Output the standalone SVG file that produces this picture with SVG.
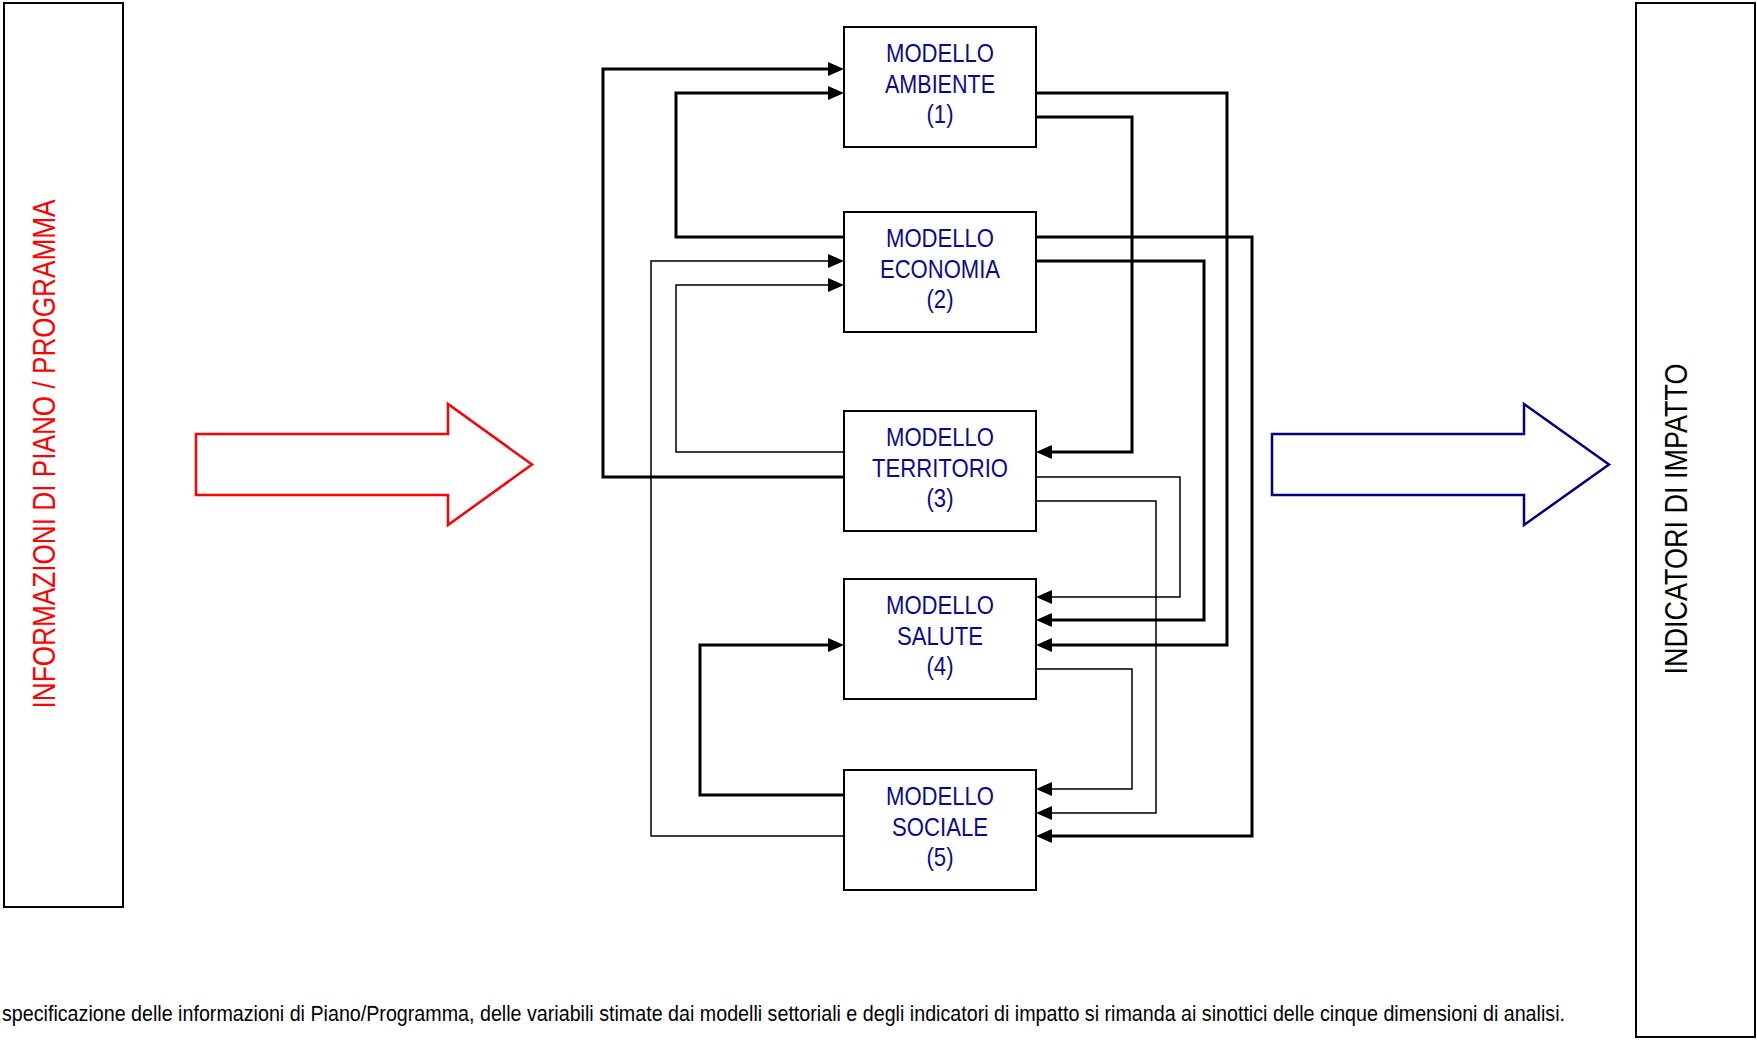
<svg xmlns="http://www.w3.org/2000/svg" width="1757" height="1041" viewBox="0 0 1757 1041">
<style>
.box{fill:#fff;stroke:#000;stroke-width:2}
.nt{font-family:'Liberation Sans Narrow','Arial Narrow','Liberation Sans',sans-serif;font-size:26px;fill:#0a0a8c;text-anchor:middle}
.thick{fill:none;stroke:#000;stroke-width:3;stroke-linejoin:miter}
.thin{fill:none;stroke:#000;stroke-width:1.5;stroke-linejoin:miter}
.vt{font-family:'Liberation Sans Narrow','Arial Narrow','Liberation Sans',sans-serif;text-anchor:middle}
</style>
<defs>
<marker id="ah" markerUnits="userSpaceOnUse" markerWidth="16" markerHeight="14" refX="8" refY="7" orient="auto">
<path d="M0,0 L16,7 L0,14 z" fill="#000"/>
</marker>
</defs>
<rect width="1757" height="1041" fill="#fff"/>

<g id="input-box">
<rect class="box" x="4" y="3" width="119" height="904"/>
<text class="vt" transform="translate(55,454) rotate(-90)" font-size="31.5" fill="#ff0000" textLength="509" lengthAdjust="spacingAndGlyphs">INFORMAZIONI DI PIANO / PROGRAMMA</text>
</g>

<g id="input-arrow">
<polygon points="196,434 448,434 448,404 532,464.5 448,525 448,495 196,495" fill="#fff" stroke="#ff0000" stroke-width="2.5" stroke-linejoin="miter"/>
</g>

<g id="output-arrow">
<polygon points="1272,434 1524,434 1524,404 1609,464.5 1524,525 1524,495 1272,495" fill="#fff" stroke="#000080" stroke-width="2.5" stroke-linejoin="miter"/>
</g>

<g id="output-box">
<rect class="box" x="1636" y="3" width="119" height="1034"/>
<text class="vt" transform="translate(1687,519) rotate(-90)" font-size="32" fill="#000" textLength="311" lengthAdjust="spacingAndGlyphs">INDICATORI DI IMPATTO</text>
</g>

<g id="connectors">
<path class="thick" d="M844,477 H603 V69 H836" marker-end="url(#ah)"/>
<path class="thick" d="M844,237 H676 V93 H836" marker-end="url(#ah)"/>
<path class="thin" d="M844,836 H651 V261 H836" marker-end="url(#ah)"/>
<path class="thin" d="M844,452 H676 V285 H836" marker-end="url(#ah)"/>
<path class="thick" d="M844,795 H700 V645 H836" marker-end="url(#ah)"/>
<path class="thick" d="M1036,93 H1227 V645 H1044" marker-end="url(#ah)"/>
<path class="thick" d="M1036,117 H1132 V452 H1044" marker-end="url(#ah)"/>
<path class="thick" d="M1036,237 H1252 V836 H1044" marker-end="url(#ah)"/>
<path class="thick" d="M1036,261 H1204 V620 H1044" marker-end="url(#ah)"/>
<path class="thin" d="M1036,477 H1180 V597 H1044" marker-end="url(#ah)"/>
<path class="thin" d="M1036,501 H1156 V813 H1044" marker-end="url(#ah)"/>
<path class="thin" d="M1036,669 H1132 V789 H1044" marker-end="url(#ah)"/>
</g>

<g id="node-ambiente">
<rect class="box" x="844" y="27" width="192" height="120"/>
<text class="nt" x="940" y="62" textLength="108" lengthAdjust="spacingAndGlyphs">MODELLO</text>
<text class="nt" x="940" y="92.5" textLength="110" lengthAdjust="spacingAndGlyphs">AMBIENTE</text>
<text class="nt" x="940" y="123" textLength="27" lengthAdjust="spacingAndGlyphs">(1)</text>
</g>

<g id="node-economia">
<rect class="box" x="844" y="212" width="192" height="120"/>
<text class="nt" x="940" y="247" textLength="108" lengthAdjust="spacingAndGlyphs">MODELLO</text>
<text class="nt" x="940" y="277.5" textLength="120" lengthAdjust="spacingAndGlyphs">ECONOMIA</text>
<text class="nt" x="940" y="308" textLength="27" lengthAdjust="spacingAndGlyphs">(2)</text>
</g>

<g id="node-territorio">
<rect class="box" x="844" y="411" width="192" height="120"/>
<text class="nt" x="940" y="446" textLength="108" lengthAdjust="spacingAndGlyphs">MODELLO</text>
<text class="nt" x="940" y="476.5" textLength="136" lengthAdjust="spacingAndGlyphs">TERRITORIO</text>
<text class="nt" x="940" y="507" textLength="27" lengthAdjust="spacingAndGlyphs">(3)</text>
</g>

<g id="node-salute">
<rect class="box" x="844" y="579" width="192" height="120"/>
<text class="nt" x="940" y="614" textLength="108" lengthAdjust="spacingAndGlyphs">MODELLO</text>
<text class="nt" x="940" y="644.5" textLength="86" lengthAdjust="spacingAndGlyphs">SALUTE</text>
<text class="nt" x="940" y="675" textLength="27" lengthAdjust="spacingAndGlyphs">(4)</text>
</g>

<g id="node-sociale">
<rect class="box" x="844" y="770" width="192" height="120"/>
<text class="nt" x="940" y="805" textLength="108" lengthAdjust="spacingAndGlyphs">MODELLO</text>
<text class="nt" x="940" y="835.5" textLength="96" lengthAdjust="spacingAndGlyphs">SOCIALE</text>
<text class="nt" x="940" y="866" textLength="27" lengthAdjust="spacingAndGlyphs">(5)</text>
</g>

<g id="footnote">
<text x="2" y="1021" font-family="'Liberation Sans Narrow','Arial Narrow','Liberation Sans',sans-serif" font-size="22" fill="#000" textLength="1563" lengthAdjust="spacingAndGlyphs">specificazione delle informazioni di Piano/Programma, delle variabili stimate dai modelli settoriali e degli indicatori di impatto si rimanda ai sinottici delle cinque dimensioni di analisi.</text>
</g>
</svg>
